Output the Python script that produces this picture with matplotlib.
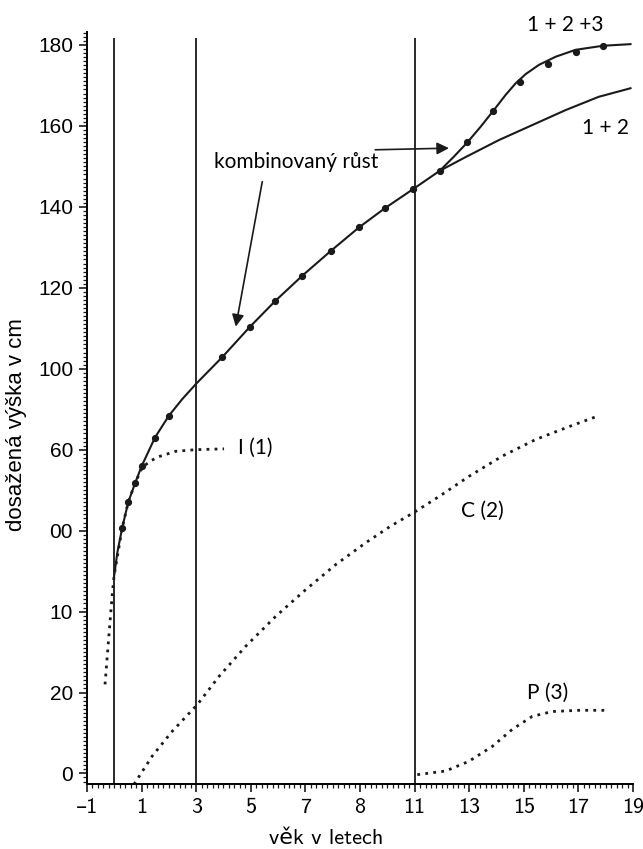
import matplotlib.pyplot as plt
from matplotlib.ticker import MultipleLocator, FixedLocator

# --- data (age in years, height in cm) ---
# measured growth points ("kombinovaný růst")
dot_age = [0.3, 0.51, 0.76, 1.0, 1.49, 2.0, 3.96, 4.96, 5.89, 6.89, 7.93, 8.96,
           9.92, 10.95, 11.92, 12.93, 13.88, 14.88, 15.89, 16.9, 17.9]
dot_h = [60.7, 67.0, 71.7, 75.9, 83.0, 88.4, 102.9, 110.3, 116.7, 123.0, 129.1, 134.9,
         139.7, 144.4, 148.9, 155.9, 163.7, 170.8, 175.4, 178.3, 179.8]

# curve 1 + 2 (infancy + childhood)
c12_age = [-0.01, 0.11, 0.29, 0.51, 0.76, 1.0, 1.49, 2.0, 2.49, 3.0, 3.96, 4.96, 5.89,
           6.89, 7.93, 8.96, 9.92, 10.95, 11.92, 12.87, 14.09, 15.31, 16.53, 17.75, 18.91]
c12_h = [48.6, 54.5, 60.7, 67.0, 71.7, 75.9, 83.0, 88.4, 92.5, 96.3, 102.9, 110.3, 116.7,
         123.0, 129.1, 134.9, 139.7, 144.4, 148.9, 152.3, 156.5, 160.2, 163.9, 167.2, 169.3]

# curve 1 + 2 + 3 (with puberty)
c123_age = [11.92, 12.44, 12.93, 13.42, 13.88, 14.34, 14.7, 15.07, 15.56, 16.17, 16.9, 17.9, 18.91]
c123_h = [148.9, 152.4, 155.9, 159.8, 163.7, 167.7, 170.5, 172.8, 175.1, 177.1, 178.8, 179.8, 180.2]

# component I (1)
i_age = [-0.34, -0.19, -0.07, -0.01, 0.29, 0.51, 0.76, 1.03, 1.35, 1.64, 2.25, 2.98, 4.02]
i_h = [22.0, 34.7, 44.6, 48.7, 60.7, 67.0, 71.7, 75.7, 77.3, 78.3, 79.6, 80.0, 80.2]

# component C (2)
c_age = [0.72, 1.39, 2.12, 3.04, 3.84, 4.81, 5.91, 7.01, 8.11, 9.21, 10.12, 10.98,
         11.89, 12.99, 14.21, 15.43, 16.66, 17.63]
c_h = [-2.7, 4.3, 10.4, 17.0, 24.0, 31.4, 38.8, 45.4, 51.6, 57.0, 61.1, 64.5,
       68.4, 73.4, 78.4, 82.5, 85.7, 88.1]

# component P (3)
p_age = [11.1, 12.14, 12.99, 13.85, 14.58, 15.31, 16.04, 17.02, 18.0]
p_h = [-0.3, 0.6, 3.0, 6.7, 10.9, 14.1, 15.3, 15.6, 15.6]

phase_lines = [0, 3, 11]

x_ticks = [-1, 1, 3, 5, 7, 9, 11, 13, 15, 17, 19]
x_labels = ["\u20131", "1", "3", "5", "7", "8", "11", "13", "15", "17", "19"]
y_ticks = [0, 20, 40, 60, 80, 100, 120, 140, 160, 180]
y_labels = ["0", "20", "10", "00", "60", "100", "120", "140", "160", "180"]

ink = "#1a1a1a"
note_font = ["Lato", "DejaVu Sans"]
tick_font = ["cmss10", "DejaVu Sans"]
arial = ["Liberation Sans", "DejaVu Sans"]

fig = plt.figure(figsize=(6.43, 8.49), dpi=100)
ax = fig.add_axes([0.1353, 0.0766, 0.8491, 0.8857])
ax.set_xlim(-1, 19)
ax.set_ylim(-2.6, 183.2)

# vertical phase lines
ax.vlines(phase_lines, -2.6, 181.7, color="#2a2a2a", lw=1.4)

dots = (0, (1.0, 1.9))
for xs, ys in [(i_age, i_h), (c_age, c_h), (p_age, p_h)]:
    ax.plot(xs, ys, color=ink, lw=2.0, linestyle=dots)

ax.plot(c12_age, c12_h, color=ink, lw=1.5, solid_joinstyle="round")
ax.plot(c123_age, c123_h, color=ink, lw=1.5, solid_joinstyle="round")
ax.plot(dot_age, dot_h, "o", color=ink, ms=4.2)

# arrows
arw = dict(arrowstyle="-|>", color=ink, lw=1.2, mutation_scale=18, shrinkA=0, shrinkB=0)
ax.annotate("", xy=(4.45, 110.4), xytext=(5.42, 146.2), arrowprops=arw)
ax.annotate("", xy=(12.26, 154.5), xytext=(9.56, 154.1), arrowprops=arw)

txt = dict(family=note_font, fontsize=15, ha="center", va="center")
ax.text(6.67, 151.1, "kombinovaný růst", **txt)
ax.text(5.18, 80.4, "I (1)", **txt)
ax.text(13.48, 64.8, "C (2)", **txt)
ax.text(15.86, 19.9, "P (3)", **txt)
ax.text(16.53, 184.9, "1 + 2 +3", clip_on=False, **txt)
ax.text(18.0, 159.4, "1 + 2", **txt)

# axes styling
for s in ["top", "right"]:
    ax.spines[s].set_visible(False)
ax.spines["left"].set_linewidth(1.4)
ax.spines["bottom"].set_linewidth(1.4)

ax.xaxis.set_major_locator(FixedLocator(x_ticks))
ax.set_xticklabels(x_labels, family=tick_font, fontsize=16)
ax.xaxis.set_minor_locator(MultipleLocator(0.2))
ax.yaxis.set_major_locator(FixedLocator(y_ticks))
ax.set_yticklabels(y_labels, family=arial, fontsize=15)
ax.yaxis.set_minor_locator(MultipleLocator(1))
ax.tick_params(which="major", length=6, width=1.2, color=ink, pad=4)
ax.tick_params(which="minor", length=3, width=0.9, color=ink)

fig.text(0.508, 0.012, "věk v letech", family=tick_font, fontsize=16, ha="center", va="center")
fig.text(0.025, 0.5, "dosažená výška v cm", family=arial,
         fontsize=16, rotation=90, ha="center", va="center")

fig.savefig("out.png", dpi=100, facecolor="white")
